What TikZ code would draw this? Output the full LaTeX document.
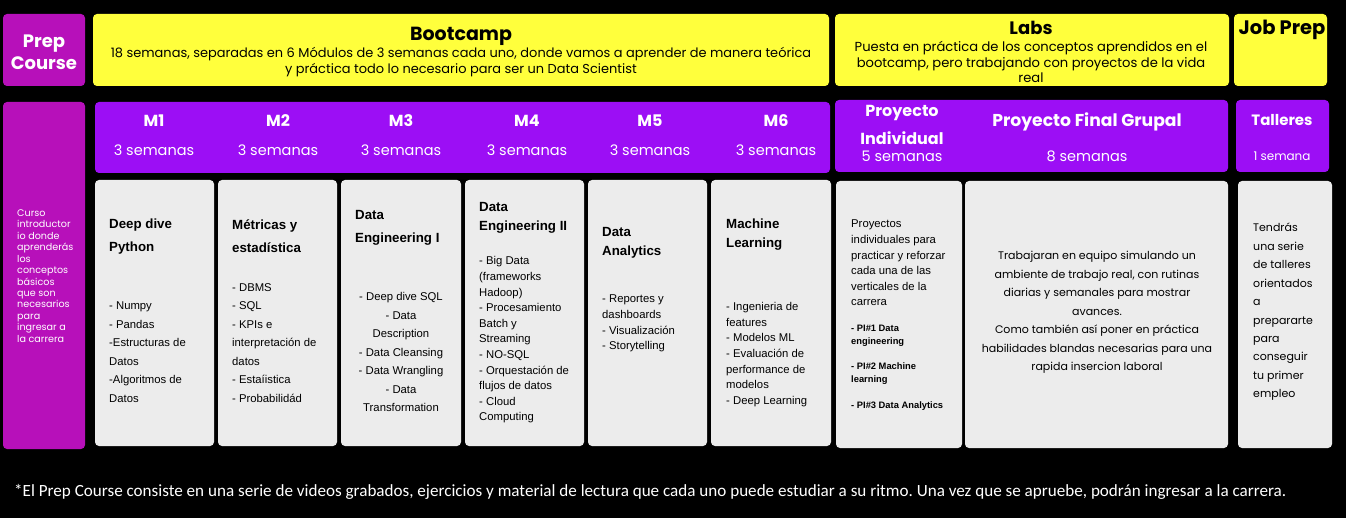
\documentclass[tikz,border=0pt]{standalone}
\usepackage{fontspec}
\setmainfont{Liberation Sans}
\newfontfamily\hfont{Poppins}
\newfontfamily\ffont{Carlito}
\frenchspacing
\definecolor{prepmag}{RGB}{183,16,186}
\definecolor{headyel}{RGB}{255,255,60}
\definecolor{modvio}{RGB}{156,14,245}
\definecolor{cardgrey}{RGB}{236,236,236}
\tikzset{
  headtitle/.style={inner sep=0, align=center, font=\hfont\bfseries\fontsize{#1}{#1}\selectfont},
  headsub/.style={inner sep=0, align=center, font=\hfont\fontsize{12.95}{16}\selectfont},
  modtitle/.style={inner sep=0, text=white, font=\hfont\bfseries\fontsize{16}{16}\selectfont},
  modweeks/.style={inner sep=0, text=white, font=\hfont\fontsize{14.5}{14.5}\selectfont},
  cardtitle/.style={inner sep=0, anchor=west, align=left, font=\bfseries\fontsize{13.3}{#1}\selectfont},
  carditems/.style={inner sep=0, anchor=west, align=left, font=\fontsize{11.3}{#1}\selectfont},
  panel/.style={rounded corners=4pt}
}
\begin{document}
\begin{tikzpicture}[x=1pt,y=-1pt]
\fill[black] (0,0) rectangle (1346,518);
\useasboundingbox (0,0) rectangle (1346,518);

% top header row
\fill[prepmag, panel] (3,14) rectangle (85,86);
\fill[headyel, panel] (93,14) rectangle (829,86);
\fill[headyel, panel] (835,14) rectangle (1229,86);
\fill[headyel, panel] (1234,14) rectangle (1327,86);

% module row
\fill[prepmag, panel] (3,102) rectangle (85,449);
\fill[modvio, panel] (95,102) rectangle (830,173);
\fill[modvio, panel] (835,100) rectangle (1228,172);
\fill[modvio, panel] (1236,100) rectangle (1329,172);

% content cards
\foreach \a/\b in {95/214, 218/337, 341/461, 465/584, 588/707, 711/831}
  \fill[cardgrey, panel] (\a,180) rectangle (\b,446);
\fill[cardgrey, panel] (836,181) rectangle (962,448);
\fill[cardgrey, panel] (965,181) rectangle (1228,448);
\fill[cardgrey, panel] (1238,181) rectangle (1332,448);

% header texts
\node[headtitle=18, text=white, font=\hfont\bfseries\fontsize{18}{22}\selectfont] (prep) at (44,52) {Prep\\Course};
\node[headtitle=19] (boot) at (461,36) {Bootcamp};
\node[headsub] (bootsub) at (461,62) {18 semanas, separadas en 6 Módulos de 3 semanas cada uno, donde vamos a aprender de manera teórica\\y práctica todo lo necesario para ser un Data Scientist};
\node[headtitle=18] (labs) at (1031,28) {Labs};
\node[headsub, font=\hfont\fontsize{13.1}{15.5}\selectfont] (labssub) at (1031,62) {Puesta en práctica de los conceptos aprendidos en el\\bootcamp, pero trabajando con proyectos de la vida\\real};
\node[headtitle=19.5] (job) at (1282,30) {Job Prep};

% module labels
\foreach \n/\x in {1/154, 2/278, 3/401, 4/527, 5/650, 6/776} {
  \node[modtitle] (m\n) at (\x,121) {M\n};
  \node[modweeks] (w\n) at (\x,150) {3 semanas};
}
\node[modtitle, align=center, font=\hfont\bfseries\fontsize{16}{28}\selectfont] (pind) at (902,125) {Proyecto\\Individual};
\node[modweeks] (pindw) at (902,156) {5 semanas};
\node[modtitle, font=\hfont\bfseries\fontsize{17.2}{17.2}\selectfont] (pgrp) at (1087,122) {Proyecto Final Grupal};
\node[modweeks] (pgrpw) at (1087,156) {8 semanas};
\node[modtitle, font=\hfont\bfseries\fontsize{15}{15}\selectfont] (tall) at (1282,120) {Talleres};
\node[modweeks, font=\hfont\fontsize{12}{12}\selectfont] (tallw) at (1282,156) {1 semana};

% prep course description
\node[inner sep=0, anchor=west, align=left, text=white, font=\hfont\fontsize{9.6}{11.45}\selectfont] (prepd) at (17,276)
  {Curso\\introductor\\io donde\\aprenderás\\los\\conceptos\\básicos\\que son\\necesarios\\para\\ingresar a\\la carrera};

% card 1
\node[cardtitle=23] (c1t) at (109,236.5) {Deep dive\\Python};
\node[carditems=18.5] (c1i) at (109,352) {- Numpy\\- Pandas\\-Estructuras de\\Datos\\-Algoritmos de\\Datos};
% card 2
\node[cardtitle=23] (c2t) at (232,236.5) {Métricas y\\estadística};
\node[carditems=18.5] (c2i) at (232,343) {- DBMS\\- SQL\\- KPIs e\\interpretación de\\datos\\- Estaíistica\\- Probabilidád};
% card 3
\node[cardtitle=23] (c3t) at (355,227.5) {Data\\Engineering I};
\node[carditems=18.5, anchor=center, align=center] (c3i) at (401,352) {- Deep dive SQL\\- Data\\Description\\- Data Cleansing\\- Data Wrangling\\- Data\\Transformation};
% card 4
\node[cardtitle=19] (c4t) at (479,217.5) {Data\\Engineering II};
\node[carditems=15.6] (c4i) at (479,340) {- Big Data\\(frameworks\\Hadoop)\\- Procesamiento\\Batch y\\Streaming\\- NO-SQL\\- Orquestación de\\flujos de datos\\- Cloud\\Computing};
% card 5
\node[cardtitle=19] (c5t) at (602,242.5) {Data\\Analytics};
\node[carditems=15.6] (c5i) at (602,323.5) {- Reportes y\\dashboards\\- Visualización\\- Storytelling};
% card 6
\node[cardtitle=19] (c6t) at (726,234.5) {Machine\\Learning};
\node[carditems=15.6] (c6i) at (726,354.5) {- Ingenieria de\\features\\- Modelos ML\\- Evaluación de\\performance de\\modelos\\- Deep Learning};
% card 7
\node[carditems=15.6] (c7i) at (851,263) {Proyectos\\individuales para\\practicar y reforzar\\cada una de las\\verticales de la\\carrera};
\node[inner sep=0, anchor=west, align=left, font=\bfseries\fontsize{9.35}{13}\selectfont] (c7a) at (851,335.5) {- PI\#1 Data\\engineering};
\node[inner sep=0, anchor=west, align=left, font=\bfseries\fontsize{9.35}{13}\selectfont] (c7b) at (851,373.5) {- PI\#2 Machine\\learning};
\node[inner sep=0, anchor=west, align=left, font=\bfseries\fontsize{9.35}{13}\selectfont] (c7c) at (851,406) {- PI\#3 Data Analytics};
% card 8
\node[inner sep=0, align=center, font=\hfont\fontsize{11}{18.5}\selectfont] (c8i) at (1097,312.5)
  {Trabajaran en equipo simulando un\\ambiente de trabajo real, con rutinas\\diarias y semanales para mostrar\\avances.\\Como también así poner en práctica\\habilidades blandas necesarias para una\\rapida insercion laboral};
% card 9
\node[inner sep=0, anchor=west, align=left, font=\hfont\fontsize{11}{18.45}\selectfont] (c9i) at (1253,312)
  {Tendrás\\una serie\\de talleres\\orientados\\a\\prepararte\\para\\conseguir\\tu primer\\empleo};

% footnote
\node[inner sep=0, anchor=west, text=white, font=\ffont\fontsize{17.1}{17.1}\selectfont] (foot) at (14,492)
  {*El Prep Course consiste en una serie de videos grabados, ejercicios y material de lectura que cada uno puede estudiar a su ritmo. Una vez que se apruebe, podrán ingresar a la carrera.};
\end{tikzpicture}
\end{document}
